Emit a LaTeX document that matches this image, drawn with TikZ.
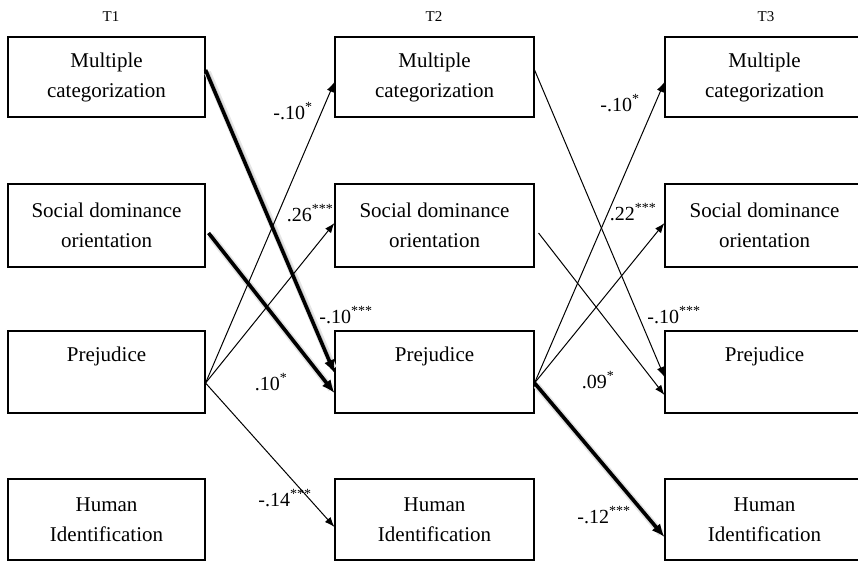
\documentclass[tikz,border=0pt]{standalone}
\usepackage{fontspec}
\setmainfont{Liberation Serif}
\usetikzlibrary{arrows.meta,positioning}
\begin{document}
\begin{tikzpicture}[x=1pt,y=-1pt,
  box/.style={draw, line width=1.1pt, minimum width=199pt, inner sep=0pt, align=center,
    font=\fontsize{21}{30}\selectfont},
  hdr/.style={font=\fontsize{15}{18}\selectfont},
  lbl/.style={font=\fontsize{20}{22}\selectfont, inner sep=0pt},
  thin/.style={line width=1pt, -{Latex[length=10pt,width=7.5pt]}},
  thick/.style={line width=3.6pt, -{Latex[length=13pt,width=11pt]},
    preaction={draw=black!10, line width=7pt, -, shorten >=8pt, transform canvas={xshift=2pt,yshift=-2.5pt}},
    preaction={draw=black!22, line width=4pt, -, shorten >=8pt, transform canvas={xshift=1.5pt,yshift=-2pt}}},
]
\useasboundingbox (0,0) rectangle (858,562);
% headers
\node[hdr] (h1) at (111,17) {T1};
\node[hdr] (h2) at (434,17) {T2};
\node[hdr] (h3) at (766,17) {T3};
% T1
\node[box, minimum width=197pt, minimum height=80pt] (amc) at (106.5,77) {Multiple\\categorization};
\node[box, minimum width=197pt, minimum height=83pt] (asdo) at (106.5,225.5) {Social dominance\\orientation};
\node[box, minimum width=197pt, minimum height=82pt] (apr) at (106.5,372) {Prejudice\\[6pt]~};
\node[box, minimum width=197pt, minimum height=81pt] (ahi) at (106.5,519.5) {Human\\Identification};
% T2
\node[box, minimum height=80pt] (bmc) at (434.5,77) {Multiple\\categorization};
\node[box, minimum height=83pt] (bsdo) at (434.5,225.5) {Social dominance\\orientation};
\node[box, minimum height=82pt] (bpr) at (434.5,372) {Prejudice\\[6pt]~};
\node[box, minimum height=81pt] (bhi) at (434.5,519.5) {Human\\Identification};
% T3
\node[box, minimum height=80pt] (cmc) at (764.5,77) {Multiple\\categorization};
\node[box, minimum height=83pt] (csdo) at (764.5,225.5) {Social dominance\\orientation};
\node[box, minimum height=82pt] (cpr) at (764.5,372) {Prejudice\\[6pt]~};
\node[box, minimum height=81pt] (chi) at (764.5,519.5) {Human\\Identification};
% T1 -> T2
\draw[thick] ([yshift=7pt]amc.east) -- ([yshift=-1pt]bpr.west);
\draw[thick] ([xshift=3pt,yshift=-7.5pt]asdo.east) -- ([yshift=-21pt]bpr.west);
\draw[thin] ([yshift=-11pt]apr.east) -- ([yshift=-5pt]bmc.west);
\draw[thin] ([yshift=-11pt]apr.east) -- ([yshift=2.5pt]bsdo.west);
\draw[thin] ([yshift=-11pt]apr.east) -- ([yshift=-7.5pt]bhi.west);
% T2 -> T3
\draw[thin] ([yshift=7pt]bmc.east) -- ([yshift=-5pt]cpr.west);
\draw[thin] ([xshift=4pt,yshift=-7.5pt]bsdo.east) -- ([yshift=-23pt]cpr.west);
\draw[thin] ([yshift=-11pt]bpr.east) -- ([yshift=-5pt]cmc.west);
\draw[thin] ([yshift=-11pt]bpr.east) -- ([yshift=2.5pt]csdo.west);
\draw[thick] ([yshift=-11pt]bpr.east) -- ([yshift=-17.5pt]chi.west);
% labels
\node[lbl] (l1) at (293,111) {-.10\textsuperscript{*}};
\node[lbl] (l2) at (310,213) {.26\textsuperscript{***}};
\node[lbl] (l3) at (346,315) {-.10\textsuperscript{***}};
\node[lbl] (l4) at (271,382) {.10\textsuperscript{*}};
\node[lbl] (l5) at (285,498) {-.14\textsuperscript{***}};
\node[lbl] (l6) at (620,103) {-.10\textsuperscript{*}};
\node[lbl] (l7) at (633,212) {.22\textsuperscript{***}};
\node[lbl] (l8) at (674,315) {-.10\textsuperscript{***}};
\node[lbl] (l9) at (598,380) {.09\textsuperscript{*}};
\node[lbl] (l10) at (604,515) {-.12\textsuperscript{***}};
\end{tikzpicture}
\end{document}
